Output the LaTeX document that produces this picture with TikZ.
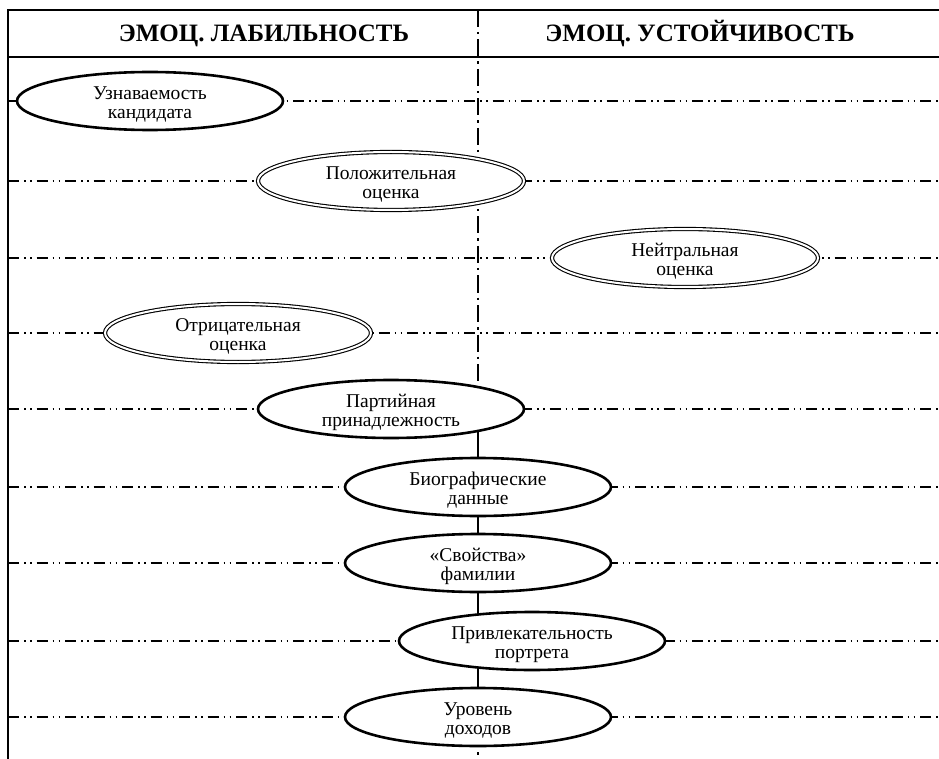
\documentclass[tikz,border=0pt]{standalone}
\usepackage{fontspec}
\setmainfont{Liberation Serif}
\usetikzlibrary{shapes.geometric,backgrounds}
% two centred lines, drawn a little below the middle of the ellipse
\newcommand{\twolines}[2]{\raisebox{-4.5pt}[\height][\depth]{\begin{tabular}{@{}c@{}}#1\\#2\end{tabular}}}
\begin{document}
\begin{tikzpicture}[x=1pt,y=-1pt,
  rowline/.style={line width=1.4pt, dash pattern=on 11pt off 5pt on 1.5pt off 4.5pt on 1.5pt off 5pt},
  axisline/.style={line width=2pt, dash pattern=on 17pt off 5pt on 2.5pt off 5pt},
  axissolid/.style={line width=2pt},
  framebar/.style={line width=2.4pt},
  colhead/.style={font=\bfseries\fontsize{25}{27}\selectfont, inner sep=0pt, anchor=base},
  factor/.style={ellipse, draw, fill=white, line width=2.6pt, minimum width=266pt,
    minimum height=58pt, inner sep=0pt,
    font=\fontsize{19.5}{19}\selectfont},
  factordbl/.style={factor, line width=1.1pt, double, double distance=2pt}
]
\useasboundingbox (0,0) rectangle (939,759);

% column headers
\node[colhead] (hl) at (264,42) {ЭМОЦ. ЛАБИЛЬНОСТЬ};
\node[colhead] (hr) at (700,42) {ЭМОЦ. УСТОЙЧИВОСТЬ};

% factors
\node[factor]    (uzn)  at (150,101) {\twolines{Узнаваемость}{кандидата}};
\node[factordbl] (pol)  at (391,181) {\twolines{Положительная}{оценка}};
\node[factordbl] (neu)  at (685,258) {\twolines{Нейтральная}{оценка}};
\node[factordbl] (otr)  at (238,333) {\twolines{Отрицательная}{оценка}};
\node[factor]    (part) at (391,409) {\twolines{Партийная}{принадлежность}};
\node[factor]    (bio)  at (478,487) {\twolines{Биографические}{данные}};
\node[factor]    (fam)  at (478,563) {\twolines{«Свойства»}{фамилии}};
\node[factor]    (port) at (532,641) {\twolines{Привлекательность}{портрета}};
\node[factor]    (doh)  at (478,717) {\twolines{Уровень}{доходов}};

% frame points
\coordinate (ftl) at (8,10);
\coordinate (ftr) at (939,10);
\coordinate (fhl) at (8,57);
\coordinate (fhr) at (939,57);
\coordinate (fbl) at (8,759);
\coordinate (axtop) at (478,10);
\coordinate (axmid) at (478,409);
\coordinate (axbot) at (478,759);

\begin{scope}[on background layer]
  % row guides
  \foreach \yy [count=\i] in {101,181,258,333,409,487,563,641,717} {
    \coordinate (rl\i) at (8,\yy);
    \coordinate (rr\i) at (939,\yy);
    \draw[rowline] (rl\i) -- (rr\i);
  }
  % central axis
  \draw[axisline] (axtop) -- (axmid);
  \draw[axissolid] (axmid) -- (bio.north);
  \draw[axissolid] (bio.south) -- (fam.north);
  \draw[axissolid] (fam.south) -- (doh.north);
  \draw[line width=2pt, dash pattern=on 0pt off 5pt on 2.5pt off 10pt] (doh.south) -- (axbot);
\end{scope}

% table frame
\draw[framebar] (ftr) -- (ftl) -- (fbl);
\draw[framebar] (fhl) -- (fhr);
\end{tikzpicture}
\end{document}
